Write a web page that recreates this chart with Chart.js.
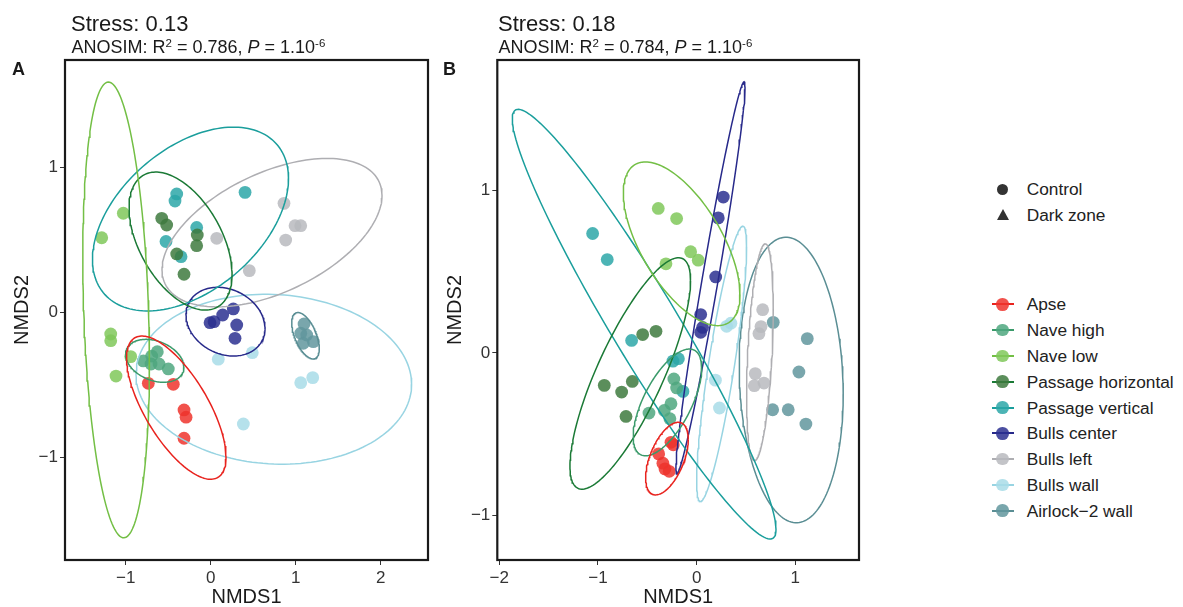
<!DOCTYPE html>
<html>
<head>
<meta charset="utf-8">
<script src="https://cdn.jsdelivr.net/npm/chart.js@4/dist/chart.umd.min.js"></script>
<style>
  body { margin: 0; background: #fff; width: 1183px; height: 607px; overflow: hidden; position: relative;
         font-family: 'Liberation Sans', Arial, Helvetica, sans-serif; color: #1a1a1a; }
  .wrap { position: absolute; top: 0; height: 607px; width: 440px; }
  .t1 { position: absolute; font-size: 22px; line-height: 22px; white-space: nowrap; }
  .t2 { position: absolute; font-size: 18px; line-height: 18px; white-space: nowrap; }
  .t2 sup { font-size: 0.64em; line-height: 0; vertical-align: 0.55em; }
  .tag { position: absolute; font-size: 18px; line-height: 18px; font-weight: bold; }
  .leg { position: absolute; left: 1026.7px; font-size: 17.3px; line-height: 20px; color: #222; white-space: nowrap; }
  .key { position: absolute; }
</style>
</head>
<body>
<div class="wrap" style="left:0"><canvas id="chartA"></canvas></div>
<div class="wrap" style="left:440px"><canvas id="chartB"></canvas></div>

<div class="t1" style="left:71px;top:13px">Stress: 0.13</div>
<div class="t2" style="left:71.5px;top:38.1px">ANOSIM: R<sup>2</sup> = 0.786, <i>P</i> = 1.10<sup>-6</sup></div>
<div class="t1" style="left:498px;top:13px">Stress: 0.18</div>
<div class="t2" style="left:498.5px;top:38.1px">ANOSIM: R<sup>2</sup> = 0.784, <i>P</i> = 1.10<sup>-6</sup></div>
<div class="tag" style="left:12px;top:60px">A</div>
<div class="tag" style="left:443px;top:60px">B</div>
<div id="legend"></div>

<script>
// groups and colours
const groups = ['Apse', 'Nave high', 'Nave low', 'Passage horizontal', 'Passage vertical',
                'Bulls center', 'Bulls left', 'Bulls wall', 'Airlock\u22122 wall'];
const pointColors = ['238,52,45', '79,167,127', '128,200,90', '62,122,62', '45,167,168',
                     '44,48,145', '185,186,190', '168,220,232', '98,150,157'];
const lineColors = ['#E8231E', '#3A9A6A', '#73BF45', '#1B7A36', '#1A9E9C',
                    '#27298A', '#AEAEB2', '#98D4E2', '#5A8E94'];
const zones = ['Control', 'Dark zone'];

// axes
const xTicksA = [-1, 0, 1, 2];
const yTicksA = [-1, 0, 1];
const xLimA = [-1.714, 2.556];
const yLimA = [-1.706, 1.743];
const xTicksB = [-2, -1, 0, 1];
const yTicksB = [-1, 0, 1];
const xLimB = [-2.02, 1.645];
const yLimB = [-1.272, 1.80];

// panel A points (NMDS1, NMDS2)
const apseA = [[-0.734, -0.487], [-0.44, -0.494], [-0.314, -0.671], [-0.29, -0.721], [-0.314, -0.866]];
const naveHighA = [[-0.793, -0.333], [-0.694, -0.299], [-0.628, -0.269], [-0.702, -0.354], [-0.608, -0.354], [-0.499, -0.388]];
const naveLowA = [[-1.028, 0.686], [-1.282, 0.517], [-1.176, -0.147], [-1.176, -0.193], [-0.941, -0.303], [-1.114, -0.437]];
const passHorA = [[-0.576, 0.651], [-0.518, 0.605], [-0.158, 0.536], [-0.165, 0.462], [-0.4, 0.405], [-0.314, 0.265]];
const passVerA = [[-0.4, 0.819], [-0.42, 0.77], [0.404, 0.83], [-0.165, 0.588], [-0.526, 0.491], [-0.349, 0.386]];
const bullsCenterA = [[-0.008, -0.069], [0.039, -0.062], [0.141, -0.016], [0.266, 0.026], [0.306, -0.085], [0.286, -0.177]];
const bullsLeftA = [[0.862, 0.754], [0.992, 0.6], [1.059, 0.6], [0.882, 0.501], [0.071, 0.513], [0.454, 0.29]];
const bullsWallA = [[0.089, -0.321], [0.489, -0.276], [1.059, -0.483], [1.2, -0.448], [0.384, -0.768]];
const airlockA = [[1.098, -0.078], [1.059, -0.142], [1.129, -0.154], [1.207, -0.2], [1.089, -0.211]];

// panel B points
const apseB = [[-0.237, -0.564], [-0.26, -0.549], [-0.385, -0.62], [-0.342, -0.677], [-0.321, -0.712], [-0.278, -0.727]];
const naveHighB = [[-0.231, -0.16], [-0.203, -0.215], [-0.26, -0.312], [-0.328, -0.353], [-0.483, -0.369], [-0.271, -0.404]];
const naveLowB = [[-0.389, 0.888], [-0.203, 0.826], [-0.061, 0.622], [0.016, 0.57], [-0.311, 0.548]];
const passHorB = [[-0.547, 0.113], [-0.412, 0.133], [-0.936, -0.199], [-0.76, -0.24], [-0.652, -0.175], [-0.716, -0.39]];
const passVerB = [[-1.054, 0.734], [-0.906, 0.574], [-0.659, 0.077], [-0.24, -0.05], [-0.185, -0.035], [-0.139, -0.236]];
const bullsCenterB = [[0.27, 0.958], [0.219, 0.83], [0.193, 0.467], [0.041, 0.236], [0.06, 0.157], [0.041, 0.127]];
const bullsLeftB = [[0.669, 0.266], [0.652, 0.162], [0.631, 0.119], [0.594, -0.127], [0.584, -0.201], [0.682, -0.185]];
const bullsWallB = [[0.304, 0.164], [0.347, 0.183], [0.19, -0.167], [0.231, -0.338]];
const airlockB = [[0.776, 0.188], [1.121, 0.088], [1.036, -0.117], [0.77, -0.349], [0.928, -0.349], [1.107, -0.437]];

// 95% ellipses: centre x, centre y, half width, half height, tilt (y at rightmost point / half height)
const ellipseA = [[-0.405, -0.655, 0.585, 0.494, -0.69], [-0.658, -0.332, 0.343, 0.148, -0.3],
                  [-1.113, 0.019, 0.392, 1.572, -0.23], [-0.355, 0.494, 0.606, 0.476, -0.48],
                  [-0.238, 0.646, 1.153, 0.634, 0.44], [0.174, -0.062, 0.465, 0.237, -0.2],
                  [0.721, 0.552, 1.294, 0.512, 0.5], [0.742, -0.459, 1.621, 0.586, -0.06],
                  [1.115, -0.159, 0.162, 0.16, -0.55]];
const ellipseB = [[-0.301, -0.649, 0.216, 0.223, 0.53], [-0.296, -0.304, 0.347, 0.328, 0.64],
                  [-0.152, 0.671, 0.591, 0.503, -0.62], [-0.673, -0.126, 0.611, 0.711, 0.8],
                  [-0.532, 0.177, 1.336, 1.32, -0.955], [0.14, 0.462, 0.35, 1.204, 0.972],
                  [0.641, 0.005, 0.135, 0.666, 0.4], [0.253, -0.067, 0.253, 0.846, 0.85],
                  [0.958, -0.166, 0.527, 0.877, -0.1]];

const pointsA = [apseA, naveHighA, naveLowA, passHorA, passVerA, bullsCenterA, bullsLeftA, bullsWallA, airlockA];
const pointsB = [apseB, naveHighB, naveLowB, passHorB, passVerB, bullsCenterB, bullsLeftB, bullsWallB, airlockB];

function ellipsePath(e) {
  const [cx, cy, w, h, rho] = e;
  const phi = Math.acos(rho);
  const out = [];
  for (let i = 0; i <= 160; i++) {
    const t = i / 160 * Math.PI * 2;
    out.push({ x: cx + w * Math.cos(t), y: cy + h * Math.cos(t + phi) });
  }
  return out;
}

const frame = {
  id: 'frame',
  afterDatasetsDraw(chart) {
    const { ctx, chartArea: a } = chart;
    ctx.save();
    ctx.strokeStyle = '#1a1a1a';
    ctx.lineWidth = 2.2;
    ctx.strokeRect(a.left, a.top, a.right - a.left, a.bottom - a.top);
    ctx.restore();
  }
};

const minus = v => String(v).replace('-', '\u2212');

function makeChart(id, pts, ells, xLim, yLim, xTicks, yTicks, yWidth, padRight, yTitlePad) {
  const datasets = [];
  ells.forEach((e, i) => datasets.push({
    data: ellipsePath(e), showLine: true, pointRadius: 0, borderColor: lineColors[i],
    borderWidth: 1.5, fill: false, tension: 0, order: 0
  }));
  pts.forEach((p, i) => datasets.push({
    data: p.map(d => ({ x: d[0], y: d[1] })), showLine: false, pointRadius: 6.4,
    pointHoverRadius: 6.4, backgroundColor: 'rgba(' + pointColors[i] + ',0.85)',
    borderWidth: 0, order: 1
  }));
  return new Chart(document.getElementById(id), {
    type: 'scatter',
    data: { datasets },
    options: {
      responsive: true,
      maintainAspectRatio: false,
      animation: false,
      layout: { padding: { top: 60, right: padRight, left: 0, bottom: 0 } },
      plugins: { legend: { display: false }, tooltip: { enabled: false } },
      scales: {
        x: {
          min: xLim[0], max: xLim[1],
          afterBuildTicks: s => { s.ticks = xTicks.map(v => ({ value: v })); },
          afterFit: s => { s.height = 47; },
          grid: { drawOnChartArea: false, drawTicks: true, tickLength: 5, color: '#333' },
          border: { display: false },
          ticks: { padding: 3, color: '#333', font: { size: 17, family: "'Liberation Sans', Arial" }, callback: minus, maxRotation: 0 },
          title: { display: true, text: 'NMDS1', color: '#1a1a1a', padding: { top: 0, bottom: 0 },
                   font: { size: 20, lineHeight: 1, family: "'Liberation Sans', Arial" } }
        },
        y: {
          min: yLim[0], max: yLim[1],
          afterBuildTicks: s => { s.ticks = yTicks.map(v => ({ value: v })); },
          afterFit: s => { s.width = yWidth; },
          grid: { drawOnChartArea: false, drawTicks: true, tickLength: 5, color: '#333' },
          border: { display: false },
          ticks: { padding: 2, color: '#333', font: { size: 17, family: "'Liberation Sans', Arial" }, callback: minus },
          title: { display: true, text: 'NMDS2', color: '#1a1a1a', padding: { top: yTitlePad, bottom: 0 },
                   font: { size: 20, lineHeight: 1, family: "'Liberation Sans', Arial" } }
        }
      }
    },
    plugins: [frame]
  });
}

makeChart('chartA', pointsA, ellipseA, xLimA, yLimA, xTicksA, yTicksA, 65, 12, 12);
makeChart('chartB', pointsB, ellipseB, xLimB, yLimB, xTicksB, yTicksB, 57.3, 21, 5);

// legend
const legend = document.getElementById('legend');
const zoneY = [189, 215];
zones.forEach((z, i) => {
  const k = document.createElement('div');
  k.className = 'key';
  if (i === 0) {
    k.style.cssText = 'left:997px;top:' + (zoneY[i] - 5.5) + 'px;width:11px;height:11px;border-radius:50%;background:#333;';
  } else {
    k.style.cssText = 'left:996.5px;top:' + (zoneY[i] - 6) + 'px;width:0;height:0;border-left:6.5px solid transparent;border-right:6.5px solid transparent;border-bottom:11px solid #333;';
  }
  legend.appendChild(k);
  const t = document.createElement('div');
  t.className = 'leg';
  t.style.top = (zoneY[i] - 10) + 'px';
  t.textContent = z;
  legend.appendChild(t);
});
groups.forEach((g, i) => {
  const y = 304.3 + i * 25.8;
  const line = document.createElement('div');
  line.className = 'key';
  line.style.cssText = 'left:991.5px;top:' + (y - 1) + 'px;width:22px;height:2px;background:' + lineColors[i] + ';';
  legend.appendChild(line);
  const dot = document.createElement('div');
  dot.className = 'key';
  dot.style.cssText = 'left:996.2px;top:' + (y - 6.3) + 'px;width:12.6px;height:12.6px;border-radius:50%;background:rgba(' + pointColors[i] + ',0.85);';
  legend.appendChild(dot);
  const t = document.createElement('div');
  t.className = 'leg';
  t.style.top = (y - 10) + 'px';
  t.textContent = g;
  legend.appendChild(t);
});
</script>
</body>
</html>
